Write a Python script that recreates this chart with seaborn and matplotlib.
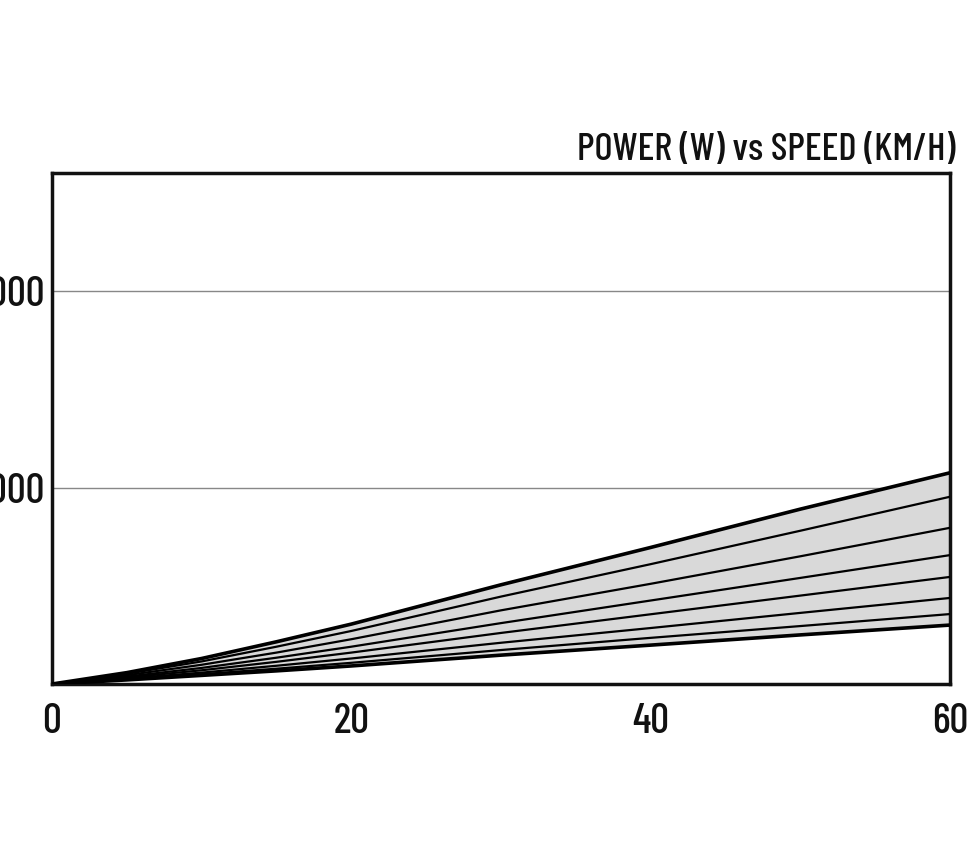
import matplotlib
matplotlib.use("Agg")
import matplotlib.pyplot as plt
import seaborn as sns
import pandas as pd

# speed (km/h) and power (W), one list per curve
speeds = [0, 5, 10, 15, 20, 30, 40, 50, 60]
power_1 = [0, 58, 130, 215, 305, 505, 695, 890, 1075]
power_2 = [0, 52, 115, 190, 270, 445, 610, 780, 953]
power_3 = [0, 45, 98, 160, 228, 375, 510, 650, 795]
power_4 = [0, 38, 82, 134, 190, 310, 425, 540, 656]
power_5 = [0, 33, 70, 113, 160, 260, 355, 450, 545]
power_6 = [0, 28, 58, 93, 130, 210, 285, 362, 438]
power_7 = [0, 24, 50, 78, 108, 173, 235, 295, 356]
power_8 = [0, 21, 44, 67, 92, 147, 198, 250, 300]
curves = [power_1, power_2, power_3, power_4, power_5, power_6, power_7, power_8]

x_ticks = [0, 20, 40, 60]
y_ticks = [1000, 2000]
title = "POWER (W) vs SPEED (KM/H)"

sns.set_style("white")
plt.rcParams['font.family'] = ['Barlow Condensed', 'DejaVu Sans']
plt.rcParams['font.weight'] = 500

fig = plt.figure(figsize=(9.7, 8.56), dpi=100)
ax = fig.add_axes([0.0536, 0.2009, 0.9258, 0.5969])

# grey band between highest and lowest curve
ax.fill_between(speeds, curves[-1], curves[0], color='#d9d9d9', linewidth=0, zorder=1)

for i, p in enumerate(curves):
    df = pd.DataFrame({'speed': speeds, 'power': p})
    lw = 2.6 if i in (0, len(curves) - 1) else 1.6
    sns.lineplot(data=df, x='speed', y='power', color='black', linewidth=lw, ax=ax, zorder=3)

ax.set_xlim(0, 60)
ax.set_ylim(0, 2600)
ax.set_xticks(x_ticks)
ax.set_yticks(y_ticks)
ax.set_xticklabels([str(t) for t in x_ticks])
ax.set_yticklabels([str(t) for t in y_ticks])
ax.yaxis.grid(True, color='#888888', linewidth=1.0, zorder=0)
ax.set_axisbelow(True)
ax.set_xlabel('')
ax.set_ylabel('')
ax.tick_params(axis='both', length=0, labelsize=30, colors='#111111')
ax.tick_params(axis='x', pad=14)
ax.tick_params(axis='y', pad=5)

for s in ax.spines.values():
    s.set_color('#111111')
    s.set_linewidth(2.5)

fig.text(0.985, 0.805, title, ha='right', va='bottom', fontsize=28, color='#111111')

fig.savefig('out.png', dpi=100)
